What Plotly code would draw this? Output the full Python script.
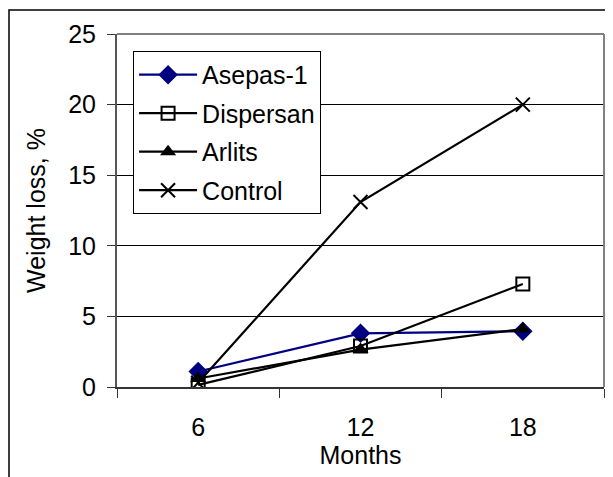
import plotly.graph_objects as go

months = ["6", "12", "18"]
asepas = [1.1, 3.8, 3.95]
dispersan = [0.15, 2.9, 7.3]
arlits = [0.6, 2.65, 4.1]
control = [0.3, 13.1, 20.0]

FONT = "Liberation Sans, Arial, sans-serif"

series = [
    ("Asepas-1", asepas, "#000080", dict(symbol="diamond", size=15, color="#000080")),
    ("Dispersan", dispersan, "black", dict(symbol="square-open", size=13, color="black", line=dict(width=2, color="black"))),
    ("Arlits", arlits, "black", dict(symbol="triangle-up", size=14, color="black")),
    ("Control", control, "black", dict(symbol="x-thin-open", size=14, color="black", line=dict(width=2, color="black"))),
]

fig = go.Figure()
for name, vals, col, mk in series:
    fig.add_trace(go.Scatter(
        x=months, y=vals, name=name, mode="lines+markers",
        line=dict(color=col, width=2.2), marker=mk, legendgroup=name,
    ))

# page body adds an 8px offset; margins compensate
L, T, R, B = 109, 26, 17, 98
PW, PH = 613 - L - R, 477 - T - B

fig.update_layout(
    width=613, height=477,
    margin=dict(l=L, r=R, t=T, b=B),
    paper_bgcolor="white", plot_bgcolor="white",
    font=dict(family=FONT, size=25, color="black"),
    showlegend=True,
    legend=dict(
        x=0.033, y=0.952, xanchor="left", yanchor="top",
        bgcolor="white", bordercolor="black", borderwidth=1,
        font=dict(size=25), itemwidth=58, tracegroupgap=3,
    ),
    xaxis=dict(
        type="category", range=[-0.5, 2.5], tickson="boundaries",
        ticks="outside", ticklen=9, tickcolor="#333", tickwidth=1,
        showline=True, linecolor="#333", linewidth=2,
        showgrid=False, zeroline=False, automargin=False,
        title=dict(text="Months", standoff=6, font=dict(size=25)),
        ticklabelstandoff=17,
    ),
    yaxis=dict(
        range=[0, 25], tickvals=[0, 5, 10, 15, 20, 25],
        ticks="outside", ticklen=8, tickcolor="#333", tickwidth=1,
        showline=True, linecolor="#555", linewidth=2,
        showgrid=True, gridcolor="black", gridwidth=1, zeroline=False,
        automargin=False, ticklabelstandoff=6,
        title=dict(text="Weight loss, %", standoff=15, font=dict(size=25)),
    ),
    shapes=[
        dict(type="line", xref="paper", yref="paper", x0=0, x1=1, y0=1, y1=1,
             line=dict(color="#808080", width=2)),
        dict(type="line", xref="paper", yref="paper", x0=1, x1=1, y0=0, y1=1,
             line=dict(color="#808080", width=2)),
        dict(type="rect", xref="paper", yref="paper",
             x0=(1 - L) / PW, x1=1.1, y0=-0.4, y1=(PH + T - 2) / PH,
             line=dict(color="black", width=1.5), fillcolor="rgba(0,0,0,0)", layer="below"),
    ],
)

fig.write_html("out.html")
